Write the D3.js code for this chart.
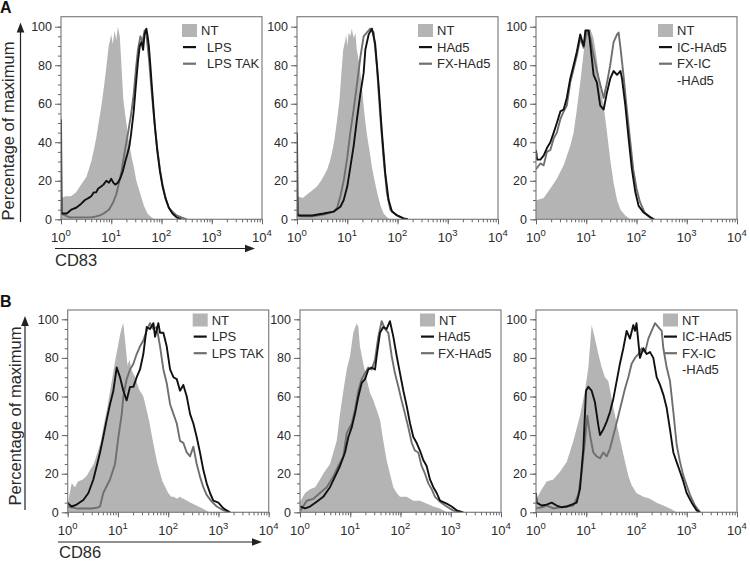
<!DOCTYPE html>
<html><head><meta charset="utf-8">
<script src="https://cdn.jsdelivr.net/npm/d3@7"></script>
<style>
body{margin:0;background:#fff}
svg{display:block;font-family:"Liberation Sans",Arial,Helvetica,sans-serif}
</style>
</head><body>
<svg id="c" width="750" height="563"></svg>
<script>
// ---------------- DATA: [intensity, % of maximum] ----------------
// Row A: CD83
const cd83_NT1 = [[1,11],[1.26,12],[1.58,12],[2,14],[2.5,18],[3.2,22],[4,30],[4.5,36],[5,42],[5.6,50],[6.3,58],[7.1,68],[7.9,78],[8.9,90],[10,96],[10.7,91],[11.7,98],[12.6,93],[13.5,100],[14.8,95],[15.8,82],[17.4,62],[20,50],[21.9,42],[25.1,33],[28.2,27],[31.6,20],[37,14],[44.7,7],[52.5,3],[63,1],[71,0]];
const cd83_LPS = [[1,52],[1.03,3],[1.3,3],[1.6,5],[2,6],[2.5,8],[3,10],[3.5,11],[4,12],[4.5,14],[5,14],[5.5,16],[6.3,17],[7,18],[8,20],[9,19],[10,21],[11,19],[12,18],[13.5,19],[15,21],[17,25],[19,30],[21,34],[23,38],[25,45],[28,56],[31,70],[34,82],[37,90],[40,92],[43,88],[46,96],[50,99],[53,95],[56,90],[60,80],[66,65],[73,50],[82,36],[93,25],[105,17],[120,11],[140,6],[165,3],[200,1],[250,0]];
const cd83_LPSTAK = [[1,3],[1.2,2],[1.5,1],[2,1],[3,1],[4,1],[5,1.5],[6,2],[7,3],[8,4],[9,5],[10,7],[11,9],[12.6,13],[14,18],[16,25],[18,33],[20,40],[22,46],[25,55],[28,65],[31,78],[34,88],[38,95],[42,92],[46,98],[50,96],[53,90],[57,82],[62,70],[68,58],[75,46],[83,36],[93,26],[105,18],[120,11],[140,6],[165,4],[200,2],[250,1],[320,0]];
const cd83_NT2 = [[1,12],[1.3,11],[1.6,13],[2,15],[2.5,17],[3,20],[3.5,23],[4,26],[4.5,30],[5,35],[5.6,42],[6.3,52],[7,62],[7.6,75],[8.3,88],[9,92],[9.5,96],[10,90],[10.7,97],[11.5,95],[12.3,99],[13.5,94],[14.5,97],[15.5,88],[17,82],[19,72],[21,60],[23,50],[25,43],[28,35],[31,27],[35,20],[40,13],[46,7],[53,3],[62,1],[72,0]];
const cd83_HAd5 = [[1,45],[1.03,2],[1.36,2],[2,2],[3.4,3],[5.4,4],[7.3,6.5],[8.5,10],[10,17],[11.5,27],[13.4,38],[15.6,52],[18.2,65],[21.2,76],[22.9,88],[26.7,96],[31,99],[36,91],[42,70],[49,45],[57,24],[66.5,10],[77.5,4],[98,2],[132,0.5],[160,0]];
const cd83_FXHAd5 = [[1,3],[1.2,1.5],[2,1.5],[3.4,2.5],[5.4,4],[6.3,6],[7.3,12],[8.5,20],[10,32],[11.5,45],[13.4,57],[15.6,70],[18.2,84],[21.2,95],[24.7,97],[28.7,99],[33.5,97],[39,79],[45.6,53],[53,31],[61.7,13.5],[72,5],[98,2],[130,0.5],[160,0]];
const cd83_NT3 = [[1,10],[1.05,10],[1.42,11],[1.93,16],[2.6,21],[3.55,28],[4.8,38],[5.6,45],[6.5,57],[7.6,71],[8.9,87],[10.3,97],[12.1,99],[14,94],[16.3,83],[19,68],[22.2,59],[25.9,45],[30,31],[35,19],[41,10],[48,5],[60,2],[75,0]];
const cd83_ICHAd5 = [[1,36],[1.05,31],[1.22,31],[1.42,33],[1.65,37],[1.93,40],[2.25,45],[2.6,50],[3.05,56],[3.55,57],[4.1,63],[4.8,73],[5.6,80],[6.5,87],[7.6,96],[8.9,90],[9.6,98],[11.2,98],[12.1,90],[14,75],[16.3,71],[19,59],[22.2,57],[25.9,66],[30,73],[35,77],[41,75],[48,77],[51.5,73],[60,59],[69.6,42],[81,26],[95,14],[110,7],[139,3.5],[189,1],[219,0]];
const cd83_FXIC = [[1,26],[1.22,29],[1.42,28],[1.65,35],[1.93,36],[2.25,42],[2.6,45],[3.05,52],[3.55,56],[4.1,59],[4.8,71],[5.6,78],[6.5,85],[7.6,94],[8.9,89],[10.3,98],[12.1,94],[14,85],[16.3,77],[19,70],[22.2,63],[25.9,71],[30,80],[35,92],[41,96],[44,97],[48,89],[55,75],[63,59],[74,42],[86,26],[100,16],[117,9],[145,3.5],[189,1],[230,0]];
// Row B: CD86
const cd86_NT1 = [[1,4],[1.1,10],[1.2,15],[1.4,13],[1.6,16],[2,17],[2.4,19],[2.8,22],[3.3,25],[3.8,30],[4.5,36],[5.2,45],[6,53],[7,63],[8,72],[9,80],[10,86],[11,92],[12,96],[12.8,98],[13.5,92],[14.5,84],[15.5,76],[17,79],[18.5,74],[20,72],[22,70],[24,67],[26,64],[29,62],[32,60],[35,56],[38,52],[42,47],[47,40],[53,33],[60,26],[68,21],[77,16],[88,13],[100,10],[115,8],[130,8],[150,7],[170,8],[200,7],[240,6],[280,5],[330,4],[400,3],[480,2],[560,1],[650,0]];
const cd86_LPS = [[1,5],[1.03,4.5],[1.2,3],[1.51,4],[2.05,6.4],[2.58,10],[3.24,17],[3.78,24],[4.4,31],[5.1,39],[5.97,48],[6.95,56],[8.1,63],[8.75,69],[9.44,75],[11,70],[12.8,63],[14.9,58],[17.4,65],[20.3,65],[23.6,70],[27.5,74],[32,82],[37.3,96],[43.5,95],[50.7,98],[54.7,91],[63.7,98],[68.8,93],[80.1,93],[93.3,86],[109,74],[127,70],[148,69],[172,63],[200,66],[234,60],[272,51],[317,46],[369,39],[429,31],[500,22],[583,15],[679,10],[791,6],[995,5],[1257,2],[1698,0]];
const cd86_LPSTAK = [[1,3],[1.5,2],[2,2],[3,2],[4,2.5],[4.4,3],[5.1,10],[6.95,17],[8.75,25],[10.2,39],[11.9,51],[12.8,60],[14.9,69],[17.4,74],[20.3,77],[23.6,82],[27.5,86],[32,89],[37.3,94],[43.5,98],[50.7,95],[59,96],[68.8,86],[80.1,74],[93.3,67],[109,56],[127,51],[148,46],[172,37],[200,36],[234,31],[272,29],[317,34],[369,25],[429,18.5],[500,13],[583,9],[735,5.5],[925,3],[1257,1],[1698,0]];
const cd86_NT2 = [[1,6],[1.03,6],[1.26,10],[1.58,12],[2,13],[2.5,17],[2.9,20],[3.95,25],[4.6,31],[5.37,37],[6.25,51],[7.3,63],[8.5,74],[9.9,81],[11.5,93],[13.4,98],[14.5,96],[15.6,86],[18.2,77],[21.2,69],[24.7,62],[28.8,58],[33.6,53],[39.1,48],[45.5,37],[53,27],[61.7,20],[72,13],[84,10],[97.8,8],[133,8],[180,6],[244,6],[331,4.5],[450,3],[611,2],[830,0]];
const cd86_HAd5 = [[1,3],[1.03,3],[1.26,2],[1.58,3],[2.15,5.5],[2.9,8],[3.95,13],[4.97,18.5],[6.25,24],[7.86,31],[9.16,39],[10.7,44],[12.4,51],[14.5,60],[16.9,67],[19.7,69],[22.9,74],[26.7,75],[31.1,74],[33.6,81],[39.1,93],[45.5,96],[53,95],[61.7,99],[72,91],[84,81],[97.8,72],[114,63],[133,55],[155,46],[180,39],[209,36],[244,32],[285,27],[331,24],[386,17],[450,13],[525,10],[611,6],[830,4.5],[1043,3],[1312,1],[1780,0]];
const cd86_FXHAd5 = [[1,1],[1.03,1],[1.36,6],[1.84,7],[2.5,10],[3.4,13],[4.6,18.5],[5.79,24],[7.3,29],[8.5,41],[10.7,46],[12.4,53],[14.5,63],[16.9,69],[19.7,72],[22.9,75],[26.7,74],[31.1,79],[36.2,91],[42.2,99],[49,95],[57.3,93],[66.7,81],[77.6,72],[90.6,65],[105,58],[123,51],[143,44],[167,36],[194,32],[226,31],[263,24],[307,20],[358,15],[417,12],[486,8],[611,5.5],[830,3],[1105,1],[1528,0]];
const cd86_NT3 = [[1,7],[1.03,7],[1.3,12],[1.63,16],[2.21,17],[3.0,21],[4.08,26],[5.53,37],[7.5,50],[9.44,63],[11,75],[12.8,97],[14.9,90],[17.4,82],[20.3,75],[23.6,70],[27.5,68],[34.7,54],[43.5,42],[54.7,30],[68.8,19],[80,14],[100,10],[137,8],[186,7],[252,5],[342,3.5],[464,2],[630,0]];
const cd86_ICHAd5 = [[1,10],[1.03,5],[1.3,3.5],[1.63,4],[2.05,5],[2.58,3.5],[3.24,2.6],[4.08,3],[5.13,4],[6.45,5],[7.5,12],[8.75,33],[9.89,63],[11,65],[12.8,63],[14.9,57],[17.4,45],[18.8,40],[21.9,43],[25.5,47],[29.7,52],[34.7,59],[40.3,68],[46.8,77],[54.7,85],[63.7,94],[74.1,90],[86.5,97],[93.3,94],[100,98],[117,80],[137,85],[159,82],[186,83],[216,80],[252,70],[294,66],[342,61],[399,54],[464,43],[541,31],[630,26],[735,21],[855,16],[995,10],[1252,5],[1575,1],[1836,0]];
const cd86_FXIC = [[1,2],[1.3,2.6],[1.63,3.5],[2.21,2],[3.0,2.6],[4.08,3],[5.53,3.5],[6.95,9],[8.1,21],[9.44,37],[10.5,50],[11.9,40],[13.8,31],[16.1,29],[18.8,28],[21.9,31],[25.5,29],[29.7,33],[37.3,43],[43.5,50],[50.7,57],[58.9,64],[68.8,70],[80,77],[93.3,80],[109,82],[127,85],[148,83],[172,90],[200,94],[234,98],[272,96],[317,94],[342,85],[399,75],[464,68],[541,52],[630,35],[735,26],[855,19],[995,14],[1160,9],[1460,3.5],[1836,0]];

// Legend labels
const legend1 = ["NT", "LPS", "LPS TAK"];
const legend2 = ["NT", "HAd5", "FX-HAd5"];
const legend3 = ["NT", "IC-HAd5", "FX-IC", "-HAd5"];
// Tick labels
const xTickValues = [1, 10, 100, 1000, 10000];
const xTickExponents = ["0", "1", "2", "3", "4"];
const yTickValues = [0, 20, 40, 60, 80, 100];
const yTickLabels = ["0", "20", "40", "60", "80", "100"];
const rowTitles = ["A", "B"];
const markerNames = ["CD83", "CD86"];
const yTitle = "Percentage of maximum";

// ---------------- LAYOUT ----------------
const W = 201;
const rows = [
  {top: 16.7, y0: 219.3, y100: 26.7, lefts: [61, 297, 536], legY: 30.5, legX: [121, 121, 122], lineDx: [25, 19, 19],
   letterY: 13.3, yArrowX: 20.5, yArrowY: [222, 22.5], yTitleX: 14, yTitleY: 131,
   xArrowY: 248.5, xArrowX: [55, 255], xLabel: [55, 266]},
  {top: 310, y0: 512.3, y100: 319.3, lefts: [67.7, 300, 536], legY: 320, legX: [125, 120, 127], lineDx: [19, 18, 19],
   letterY: 306.7, yArrowX: 25, yArrowY: [510, 316], yTitleX: 20.5, yTitleY: 416,
   xArrowY: 542, xArrowX: [58, 262], xLabel: [59, 558]}
];
const panels = [
  {row: 0, col: 0, nt: cd83_NT1, s1: cd83_LPS, s2: cd83_LPSTAK, legend: legend1},
  {row: 0, col: 1, nt: cd83_NT2, s1: cd83_HAd5, s2: cd83_FXHAd5, legend: legend2},
  {row: 0, col: 2, nt: cd83_NT3, s1: cd83_ICHAd5, s2: cd83_FXIC, legend: legend3},
  {row: 1, col: 0, nt: cd86_NT1, s1: cd86_LPS, s2: cd86_LPSTAK, legend: legend1},
  {row: 1, col: 1, nt: cd86_NT2, s1: cd86_HAd5, s2: cd86_FXHAd5, legend: legend2},
  {row: 1, col: 2, nt: cd86_NT3, s1: cd86_ICHAd5, s2: cd86_FXIC, legend: legend3}
];
const C = {nt: "#b4b4b4", black: "#111111", gray: "#6f6f6f", frame: "#808080", tick: "#666", text: "#2a2a2a"};

const svg = d3.select("#c");
const defs = svg.append("defs");

panels.forEach((p, i) => {
  const r = rows[p.row];
  const left = r.lefts[p.col];
  const x = d3.scaleLog().domain([1, 10000]).range([left, left + W]);
  const y = d3.scaleLinear().domain([0, 100]).range([r.y0, r.y100]);
  const g = svg.append("g");
  const cid = "clip" + i;
  defs.append("clipPath").attr("id", cid).append("rect")
    .attr("x", left).attr("y", r.top).attr("width", W).attr("height", r.y0 - r.top);
  const plot = g.append("g").attr("clip-path", `url(#${cid})`);

  plot.append("path").datum(p.nt)
    .attr("fill", C.nt)
    .attr("d", d3.area().x(d => x(d[0])).y0(y(0)).y1(d => y(d[1])));
  const line = d3.line().x(d => x(d[0])).y(d => y(d[1]));
  plot.append("path").datum(p.s2).attr("fill", "none").attr("stroke", C.gray)
    .attr("stroke-width", 1.9).attr("stroke-linejoin", "round").attr("d", line);
  plot.append("path").datum(p.s1).attr("fill", "none").attr("stroke", C.black)
    .attr("stroke-width", 1.9).attr("stroke-linejoin", "round").attr("d", line);

  // frame
  g.append("rect").attr("x", left).attr("y", r.top).attr("width", W).attr("height", r.y0 - r.top)
    .attr("fill", "none").attr("stroke", C.frame).attr("stroke-width", 1.2);

  // x axis ticks
  const styleAxis = sel => { sel.select(".domain").remove(); sel.selectAll("line").attr("stroke", C.tick); };
  g.append("g").attr("transform", `translate(0,${r.y0})`)
    .call(d3.axisBottom(x).tickValues(x.ticks()).tickSize(3).tickFormat(""))
    .call(styleAxis);
  g.append("g").attr("transform", `translate(0,${r.y0})`)
    .call(d3.axisBottom(x).tickValues(xTickValues).tickSize(5).tickFormat(""))
    .call(styleAxis);
  xTickValues.forEach((v, k) => {
    const t = g.append("text").attr("x", x(v)).attr("y", r.y0 + 22.5)
      .attr("text-anchor", "middle").attr("fill", C.text).attr("font-size", 13);
    t.append("tspan").text("10");
    t.append("tspan").attr("dy", -6).attr("font-size", 9.5).text(xTickExponents[k]);
  });

  // y axis
  g.append("g").attr("transform", `translate(${left},0)`)
    .call(d3.axisLeft(y).tickValues(d3.range(0, 101, 5)).tickSize(3).tickFormat(""))
    .call(styleAxis);
  const ya = g.append("g").attr("transform", `translate(${left},0)`)
    .call(d3.axisLeft(y).tickValues(yTickValues).tickSize(6).tickPadding(3)
      .tickFormat((d, k) => yTickLabels[k]))
    .call(styleAxis);
  ya.selectAll("text").attr("fill", C.text).attr("font-size", 12.5)
    .attr("font-family", "'Liberation Sans',Arial,sans-serif");

  // legend
  const lx = left + r.legX[p.col];
  const step = 16.6;
  p.legend.forEach((lab, k) => {
    const cy = r.legY + k * step;
    if (k === 0) {
      g.append("rect").attr("x", lx).attr("y", cy - 6.5).attr("width", 15).attr("height", 13).attr("fill", C.nt);
      g.append("text").attr("x", lx + 19).attr("y", cy).attr("dy", "0.35em")
        .attr("font-size", 13).attr("fill", C.text).text(lab);
    } else {
      if (k <= 2) {
        g.append("line").attr("x1", lx + 1).attr("x2", lx + 14).attr("y1", cy).attr("y2", cy)
          .attr("stroke", k === 1 ? C.black : C.gray).attr("stroke-width", 2.2);
      }
      g.append("text").attr("x", lx + r.lineDx[p.col]).attr("y", cy).attr("dy", "0.35em")
        .attr("font-size", 13).attr("fill", C.text).text(lab);
    }
  });
});

// Row decorations: letters, axis arrows, axis titles
rows.forEach((r, k) => {
  svg.append("text").attr("x", 0).attr("y", r.letterY).attr("font-size", 16).attr("font-weight", "bold")
    .attr("fill", "#111").text(rowTitles[k]);
  // y arrow
  svg.append("line").attr("x1", r.yArrowX).attr("x2", r.yArrowX).attr("y1", r.yArrowY[0]).attr("y2", r.yArrowY[1] + 8)
    .attr("stroke", "#222").attr("stroke-width", 1.2);
  svg.append("path").attr("fill", "#222")
    .attr("d", `M${r.yArrowX},${r.yArrowY[1]} l-3.8,10 l7.6,0 Z`);
  svg.append("text").attr("transform", `translate(${r.yTitleX},${r.yTitleY}) rotate(-90)`)
    .attr("text-anchor", "middle").attr("font-size", 16.5).attr("fill", C.text).text(yTitle);
  // x arrow
  svg.append("line").attr("x1", r.xArrowX[0]).attr("x2", r.xArrowX[1] - 8).attr("y1", r.xArrowY).attr("y2", r.xArrowY)
    .attr("stroke", "#222").attr("stroke-width", 1.2);
  svg.append("path").attr("fill", "#222")
    .attr("d", `M${r.xArrowX[1]},${r.xArrowY} l-10,-3.8 l0,7.6 Z`);
  svg.append("text").attr("x", r.xLabel[0]).attr("y", r.xLabel[1]).attr("font-size", 16.5)
    .attr("fill", C.text).text(markerNames[k]);
});
</script>
</body></html>
